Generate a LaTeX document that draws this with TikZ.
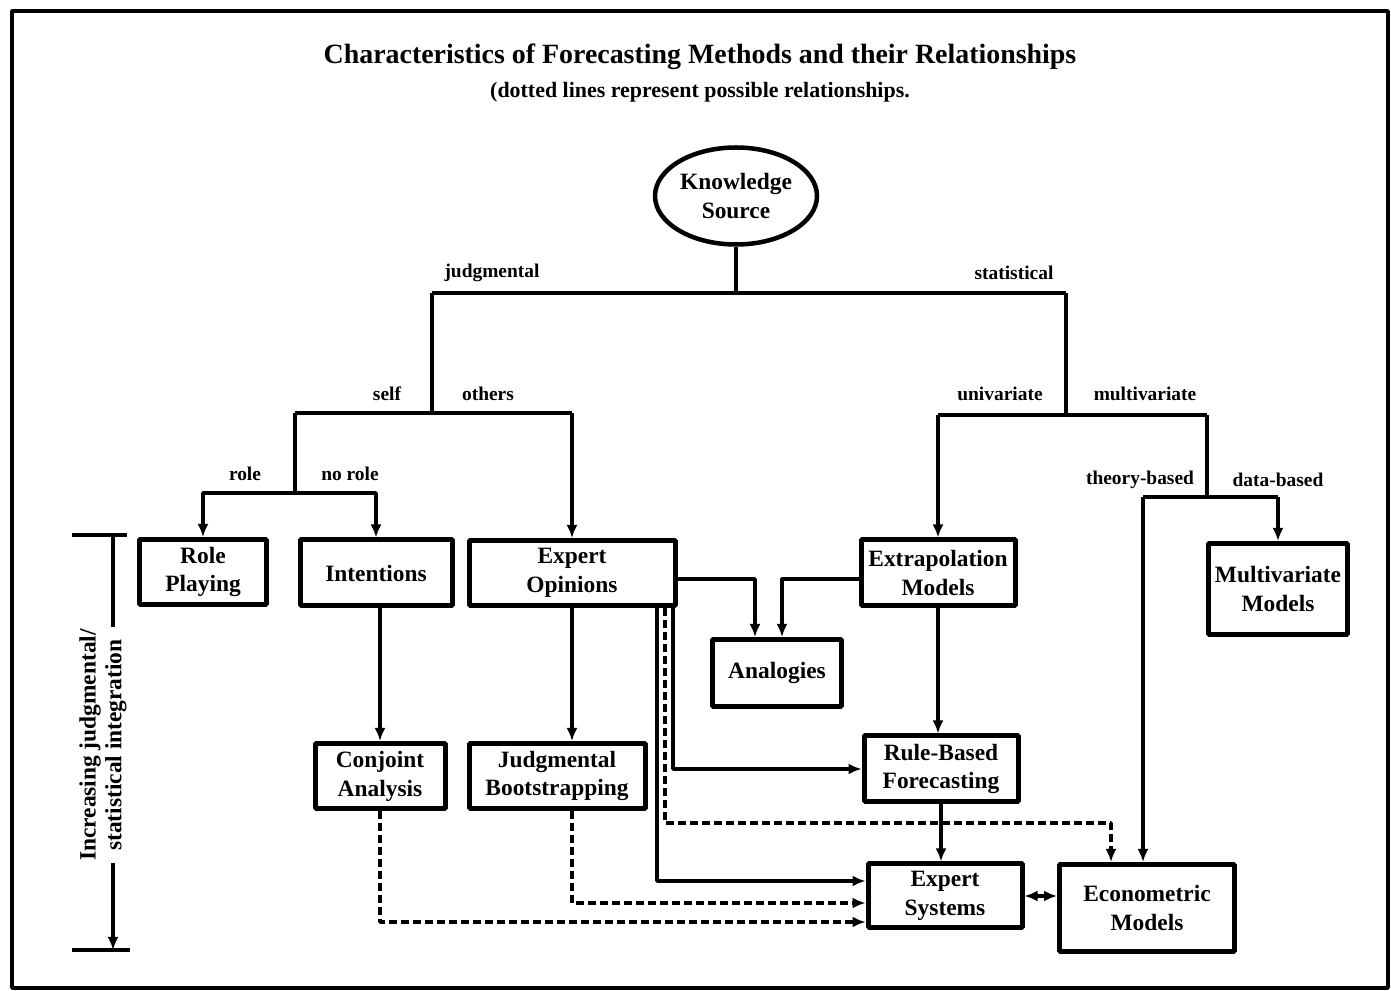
\documentclass[tikz,border=0pt]{standalone}
\usepackage{fontspec}
\setmainfont{Liberation Serif}
\usepackage{tikz}
\usetikzlibrary{arrows.meta,shapes}
\newcommand\methodfont{\fontsize{23.5}{29}\selectfont\bfseries}
\newcommand\branchfont{\fontsize{19.5}{22}\selectfont\bfseries}

\begin{document}
\begin{tikzpicture}[>={Latex[length=13bp,width=11bp]},line join=bevel,
  method/.style={draw,rectangle,line width=5bp,align=center,inner sep=0pt,font=\methodfont},
  branch/.style={font=\branchfont},
  link/.style={line width=3.2bp},
  possible/.style={link,dash pattern=on 8bp off 4bp}]
%%
\useasboundingbox (0bp,0bp) rectangle (1391bp,991bp);
\draw [line width=3.5bp] (12bp,3bp) rectangle (1388bp,980bp);
\node (title) at (700bp,934bp) [font=\fontsize{28}{32}\selectfont\bfseries] {Characteristics of Forecasting Methods and their Relationships};
\node (subtitle) at (700bp,899bp) [font=\fontsize{22}{26}\selectfont\bfseries] {(dotted lines represent possible relationships.};
%
\node (know) at (736bp,795bp) [draw,ellipse,line width=4.5bp,minimum width=162bp,minimum height=97bp,align=center,inner sep=0pt,font=\methodfont] {Knowledge\\Source};
  \coordinate (root) at (736bp,698bp);
  \coordinate (jud) at (432bp,698bp);
  \coordinate (stat) at (1066bp,698bp);
  \draw [link] (know) -- (root);
  \draw [link] (jud) -- (stat);
  \node (judlab) at (492bp,718bp) [branch] {judgmental};
  \node (statlab) at (1014bp,718bp) [branch] {statistical};
%
  \coordinate (jsplit) at (432bp,578bp);
  \coordinate (self) at (295bp,578bp);
  \coordinate (others) at (572bp,578bp);
  \draw [link] (jud) -- (jsplit);
  \draw [link] (self) -- (others);
  \node (selflab) at (387bp,597bp) [branch] {self};
  \node (othlab) at (488bp,597bp) [branch] {others};
  \coordinate (rsplit) at (295bp,498bp);
  \draw [link] (self) -- (rsplit);
  \node (rolelab) at (245bp,517bp) [branch] {role};
  \node (norolelab) at (350bp,517bp) [branch] {no role};
%
  \coordinate (ssplit) at (1066bp,576bp);
  \coordinate (univ) at (938bp,576bp);
  \coordinate (multi) at (1207bp,576bp);
  \draw [link] (stat) -- (ssplit);
  \draw [link] (univ) -- (multi);
  \node (univlab) at (1000bp,597bp) [branch] {univariate};
  \node (multilab) at (1145bp,597bp) [branch] {multivariate};
  \coordinate (msplit) at (1207bp,494bp);
  \coordinate (theory) at (1143bp,494bp);
  \coordinate (data) at (1278bp,494bp);
  \draw [link] (multi) -- (msplit);
  \draw [link] (theory) -- (data);
  \node (theorylab) at (1140bp,511bp) [branch] {theory-based};
  \node (datalab) at (1278bp,511bp) [branch] {data-based};
%
\node (role) at (203bp,419bp) [method,minimum width=127bp,minimum height=65bp] {Role\\Playing};
  \node (intent) at (376bp,418bp) [method,minimum width=152bp,minimum height=66bp] {Intentions};
  \node (expert) at (572bp,418bp) [method,minimum width=206bp,minimum height=65bp] {Expert\\Opinions};
  \node (extra) at (938bp,418bp) [method,minimum width=154bp,minimum height=66bp] {Extrapolation\\Models};
  \node (multiv) at (1278bp,402bp) [method,minimum width=139bp,minimum height=91bp] {Multivariate\\Models};
  \node (analog) at (777bp,318bp) [method,minimum width=129bp,minimum height=67bp] {Analogies};
  \node (conj) at (380bp,215bp) [method,minimum width=130bp,minimum height=65bp] {Conjoint\\Analysis};
  \node (boot) at (557bp,215bp) [method,minimum width=176bp,minimum height=65bp] {Judgmental\\Bootstrapping};
  \node (rule) at (941bp,222bp) [method,minimum width=154bp,minimum height=66bp] {Rule-Based\\Forecasting};
  \node (exsys) at (945bp,95bp) [method,minimum width=154bp,minimum height=64bp] {Expert\\Systems};
  \node (econ) at (1147bp,83bp) [method,minimum width=175bp,minimum height=87bp] {Econometric\\Models};
%
  \draw [link,->] (rsplit) -| (role);
  \draw [link,->] (rsplit) -| (intent);
  \draw [link,->] (others) -- (expert);
  \draw [link,->] (univ) -- (extra);
  \draw [link,->] (data) -- (multiv);
  \draw [link,->] (theory) -- (theory |- econ.north);
  \draw [link,->] ([yshift=-6bp]expert.east) -| ([xshift=-22bp]analog.north);
  \draw [link,->] ([yshift=-6bp]extra.west) -| ([xshift=5bp]analog.north);
  \draw [link,->] (intent.south -| conj.north) -- (conj);
  \draw [link,->] (expert) -- (expert |- boot.north);
  \draw [link,->] (extra) -- (extra |- rule.north);
  \draw [link,->] (rule) -- (rule |- exsys.north);
  \draw [link,->] ([xshift=101bp]expert.south) |- (rule);
  \draw [link,->] ([xshift=85bp]expert.south) |- ([yshift=15bp]exsys.west);
  \draw [possible,->] ([xshift=93bp]expert.south) -- ++(0bp,-215bp) -| ([xshift=-36bp]econ.north);
  \draw [possible,->] ([xshift=15bp]boot.south) |- ([yshift=-7bp]exsys.west);
  \draw [possible,->] (conj) |- ([yshift=-26bp]exsys.west);
  \draw [link,<->] (exsys.east) -- (exsys.east -| econ.west);
%
\coordinate (axtop) at (113bp,456bp);
  \coordinate (axbot) at (113bp,41bp);
  \draw [line width=4.5bp] ([xshift=-41bp]axtop) -- ([xshift=14bp]axtop);
  \draw [line width=4.5bp] ([xshift=-41bp]axbot) -- ([xshift=17bp]axbot);
  \node (axis) at (103bp,246bp) [rotate=90,align=center,inner sep=2bp,font=\fontsize{23.5}{26}\selectfont\bfseries] {Increasing judgmental/\\statistical integration};
  \draw [link] (axtop) -- (axtop |- axis.east);
  \draw [link,->] (axtop |- axis.west) -- (axbot);
%
\end{tikzpicture}
\end{document}
